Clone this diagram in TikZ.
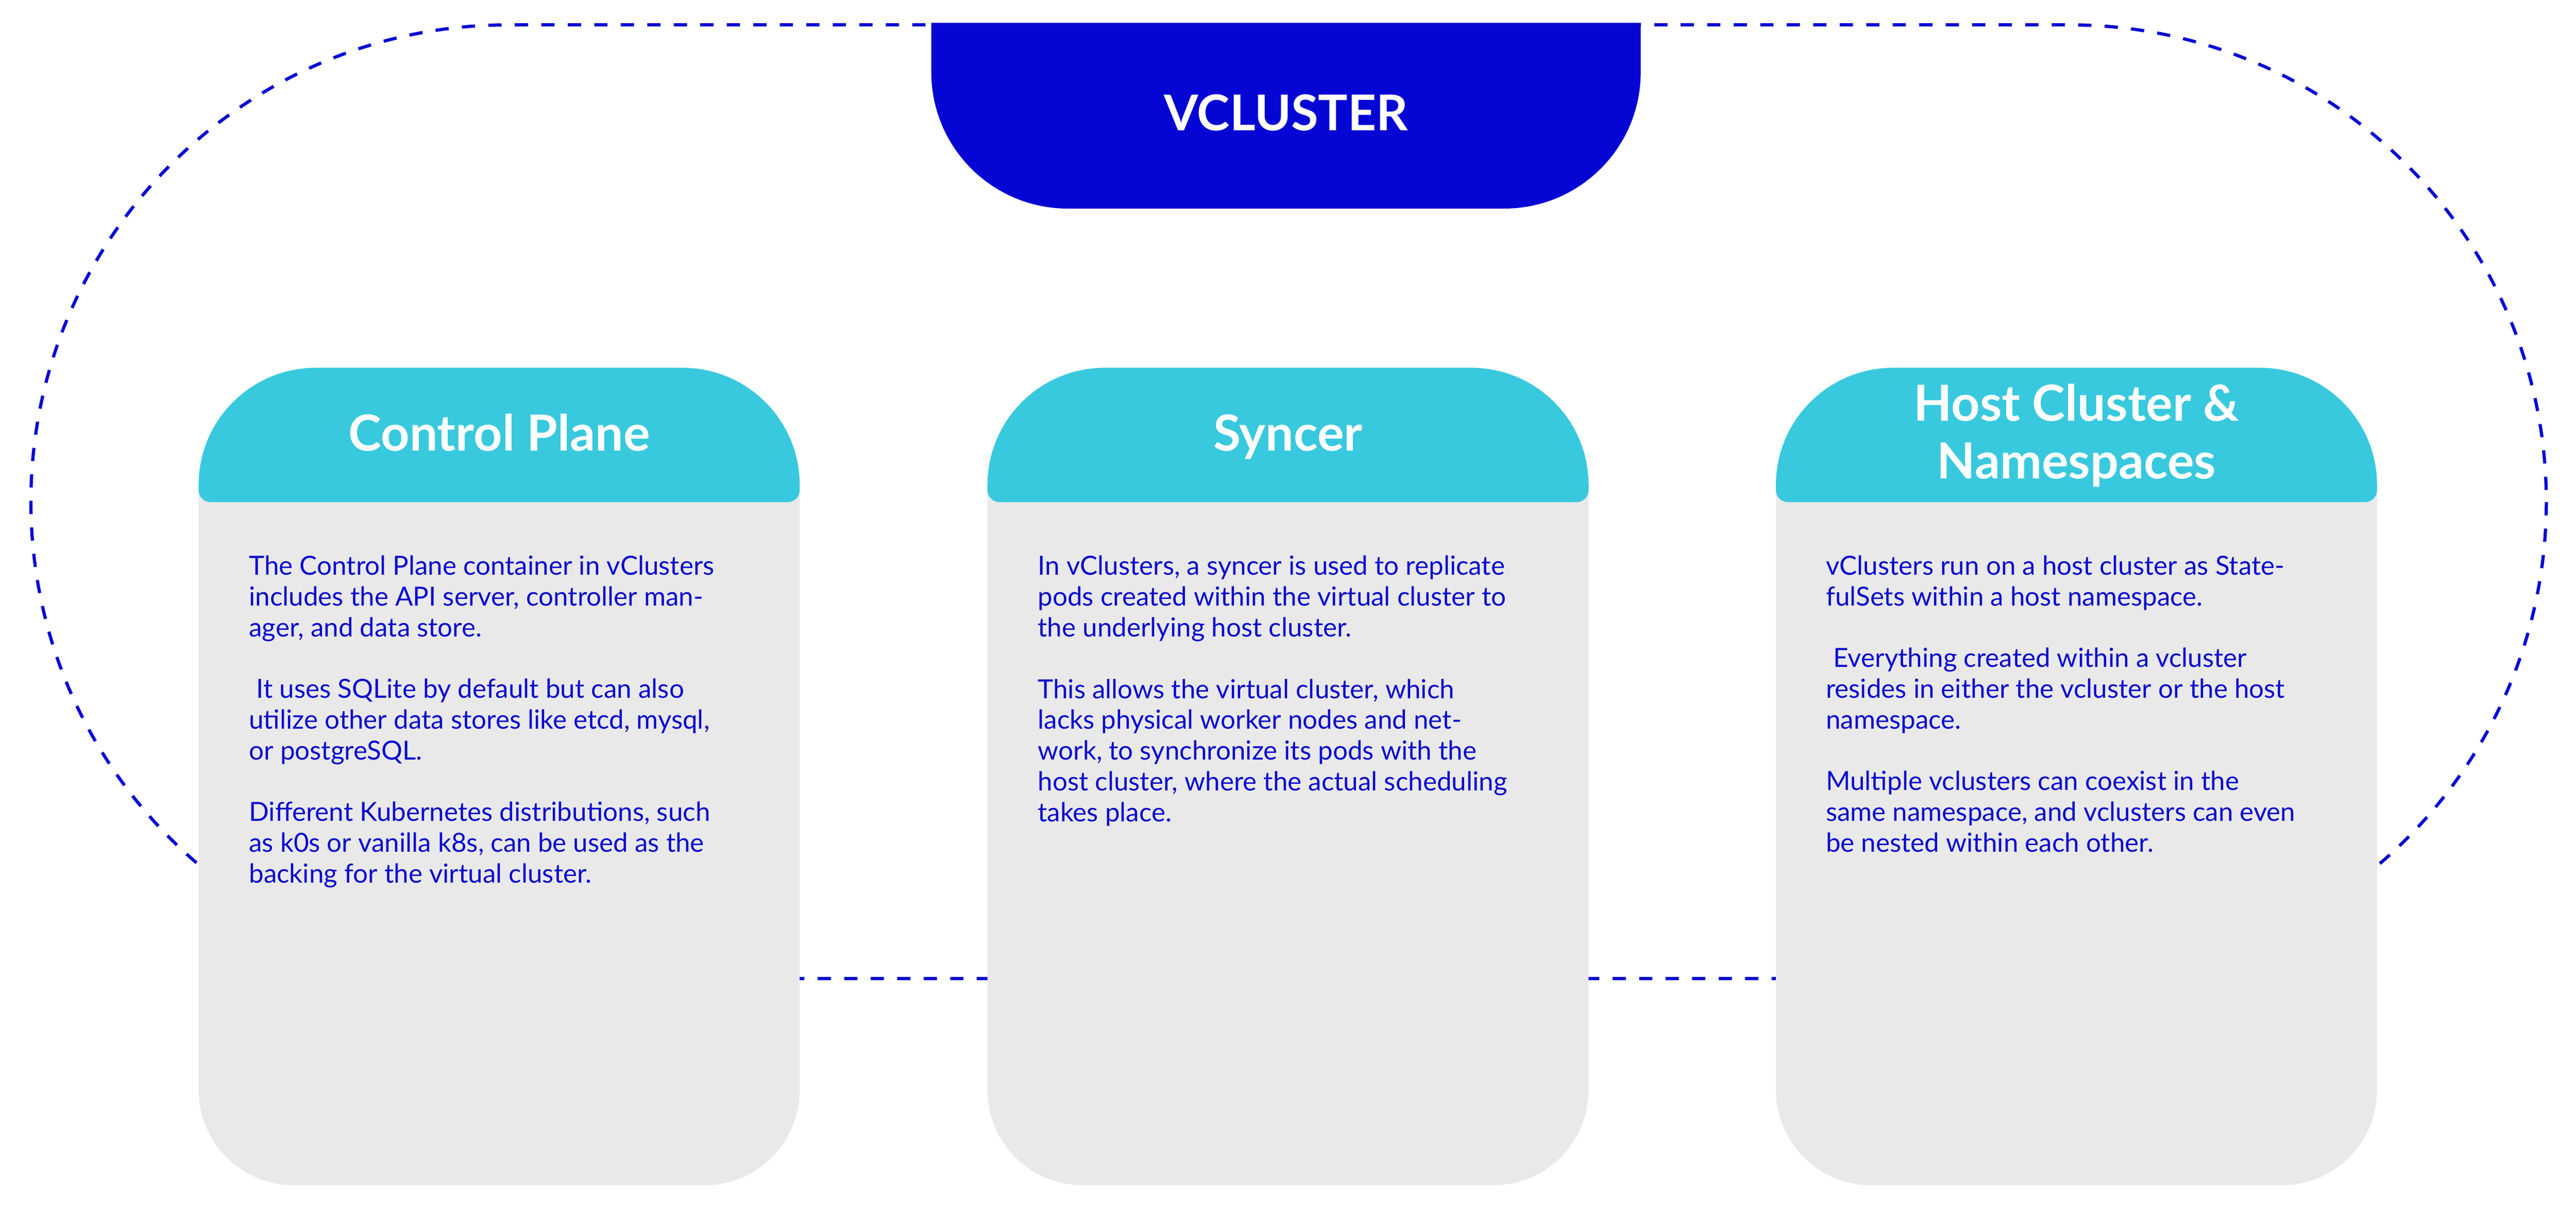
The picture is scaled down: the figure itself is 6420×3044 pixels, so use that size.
\documentclass[tikz,border=0pt]{standalone}
\usepackage{fontspec}
\setmainfont{Lato}
\definecolor{vblue}{RGB}{6,6,212}
\definecolor{tblue}{RGB}{8,8,208}
\definecolor{hcyan}{RGB}{56,201,222}
\definecolor{cgrey}{RGB}{233,233,233}
\tikzset{
  dashline/.style={draw=vblue, line width=0.08cm, dash pattern=on 0.33cm off 0.33cm},
  hdrtxt/.style={anchor=base, inner sep=0pt, text=white, font=\bfseries\fontsize{35.3pt}{41pt}\selectfont},
  bodytxt/.style={anchor=base west, inner sep=0pt, align=left, text=tblue, font=\fontsize{18.67pt}{21.82pt}\selectfont},
}
\begin{document}
\begin{tikzpicture}[x=0.01cm, y=-0.01cm]
\fill[white] (0,0) rectangle (6420,3044);
\useasboundingbox (0,0) rectangle (6420,3044);
% outer dashed stadium
\draw[dashline, rounded corners=11.89cm] (77,62) rectangle (6346,2440);
% vcluster tab
\fill[vblue, rounded corners=3.4cm] (2321,57) -- (2321,520) -- (4089,520) -- (4089,57);
\node[anchor=base, inner sep=0pt, text=white, font=\bfseries\fontsize{35pt}{40pt}\selectfont] (vc) at (3205,325) {VCLUSTER};
% cards
\foreach \L/\R in {495/1993, 2461/3959, 4426/5924}{
  \fill[cgrey, rounded corners=2.37cm] (\L,1205) -- (\L,2955) -- (\R,2955) -- (\R,1205);
  \fill[hcyan, rounded corners=2.92cm] (\L,1222) -- (\L,917) -- (\R,917) -- (\R,1222);
  \fill[hcyan, rounded corners=0.3cm] (\L,1180) rectangle (\R,1252);
}
\node[hdrtxt] (t1) at (1244,1124) {Control Plane};
\node[hdrtxt] (t2) at (3210,1124) {Syncer};
\node[hdrtxt, align=center] (t3) at (5175,1194) {Host Cluster \&\\Namespaces};
\node[bodytxt] (b1) at (620,2201) {The Control Plane container in vClusters\\includes the API server, controller man-\\ager, and data store.\\[0.767cm]\hspace*{0.28em}It uses SQLite by default but can also\\utilize other data stores like etcd, mysql,\\or postgreSQL.\\[0.767cm]Different Kubernetes distributions, such\\as k0s or vanilla k8s, can be used as the\\backing for the virtual cluster.};
\node[bodytxt] (b2) at (2586,2048) {In vClusters, a syncer is used to replicate\\pods created within the virtual cluster to\\the underlying host cluster.\\[0.767cm]This allows the virtual cluster, which\\lacks physical worker nodes and net-\\work, to synchronize its pods with the\\host cluster, where the actual scheduling\\takes place.};
\node[bodytxt] (b3) at (4550,2124) {vClusters run on a host cluster as State-\\fulSets within a host namespace.\\[0.767cm]\hspace*{0.28em}Everything created within a vcluster\\resides in either the vcluster or the host\\namespace.\\[0.767cm]Multiple vclusters can coexist in the\\same namespace, and vclusters can even\\be nested within each other.};
\end{tikzpicture}
\end{document}
